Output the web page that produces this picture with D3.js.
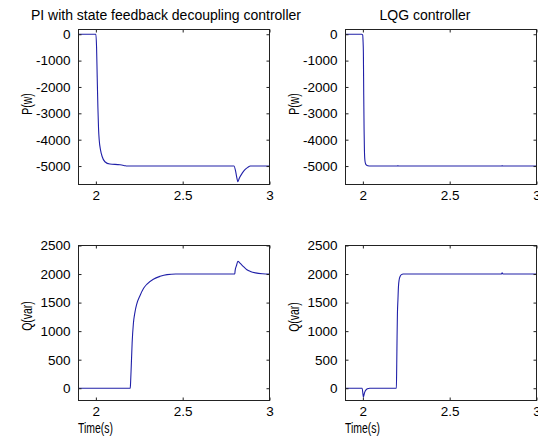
<!DOCTYPE html>
<html>
<head>
<meta charset="utf-8">
<script src="https://cdn.jsdelivr.net/npm/d3@7"></script>
<style>
  html, body { margin: 0; padding: 0; background: #fff; }
  svg { display: block; }
  text { font-family: "Liberation Sans", Arial, sans-serif; fill: #000; }
</style>
</head>
<body>
<svg id="chart" width="538" height="437"></svg>
<script>
// ---------- data ----------
const titles = ["PI with state feedback decoupling controller", "LQG controller"];
const yLabels = ["P(w)", "Q(var)"];
const xLabel = "Time(s)";
const xTicks = [2, 2.5, 3];
const xTickLabels = ["2", "2.5", "3"];
const pTicks = [0, -1000, -2000, -3000, -4000, -5000];
const qTicks = [0, 500, 1000, 1500, 2000, 2500];

// PI controller, active power P
const piP_t = [1.9, 2.0, 2.004, 2.0077, 2.0116, 2.0154, 2.0193, 2.027, 2.0366, 2.052, 2.081, 2.139, 2.168, 2.177, 2.795, 2.805, 2.812, 2.818, 2.826, 2.842, 2.86, 2.875, 2.89, 3.0];
const piP_v = [0, 0, -480, -1616, -2750, -3573, -4015, -4394, -4646, -4836, -4924, -4949, -4987, -5000, -5000, -5200, -5450, -5590, -5460, -5280, -5130, -5050, -5000, -5000];

// LQG controller, active power P
const lqgP_t = [1.9, 1.993, 1.999, 2.001, 2.003, 2.005, 2.007, 2.009, 2.012, 2.016, 2.022, 2.03, 2.04, 2.198, 2.202, 2.206, 2.798, 2.802, 2.806, 3.0];
const lqgP_v = [0, 0, -30, -250, -700, -2300, -3600, -4400, -4800, -4920, -4970, -4990, -5000, -5000, -4985, -5000, -5000, -4985, -5000, -5000];

// PI controller, reactive power Q
const piQ_t = [1.9, 2.198, 2.2, 2.204, 2.209, 2.216, 2.225, 2.235, 2.254, 2.275, 2.293, 2.331, 2.37, 2.41, 2.46, 2.8, 2.802, 2.81, 2.818, 2.83, 2.85, 2.87, 2.89, 2.92, 2.96, 3.0];
const piQ_v = [0, 0, 100, 400, 800, 1130, 1330, 1470, 1620, 1750, 1820, 1910, 1960, 1990, 2000, 2000, 2060, 2150, 2225, 2190, 2130, 2075, 2045, 2020, 2005, 2000];

// LQG controller, reactive power Q
const lqgQ_t = [1.9, 1.996, 2.0, 2.003, 2.007, 2.012, 2.018, 2.026, 2.04, 2.193, 2.195, 2.197, 2.199, 2.202, 2.205, 2.209, 2.215, 2.222, 2.232, 2.797, 2.802, 2.808, 3.0];
const lqgQ_v = [0, 0, -90, -158, -110, -60, -30, -10, 0, 0, 400, 900, 1300, 1550, 1780, 1900, 1960, 1990, 2000, 2000, 2020, 2000, 2000];

// ---------- layout ----------
const svg = d3.select("#chart");
const lineColor = "#2020a8";
const font = 13.5;

const panels = [
  { x0: 78.5, x1: 269.5, y0: 29.5, y1: 184.5, yDom: [-5700, 180], yTicks: pTicks, t: piP_t, v: piP_v, title: titles[0], titleX: 166, yLab: yLabels[0], yLabY: 104, xLab: false },
  { x0: 345.5, x1: 536.5, y0: 29.5, y1: 184.5, yDom: [-5700, 180], yTicks: pTicks, t: lqgP_t, v: lqgP_v, title: titles[1], titleX: 425, yLab: yLabels[0], yLabY: 104, xLab: false },
  { x0: 78.5, x1: 269.5, y0: 245.5, y1: 400.5, yDom: [-215, 2500], yTicks: qTicks, t: piQ_t, v: piQ_v, title: null, yLab: yLabels[1], yLabY: 316, xLab: true, xLabX: 95.5 },
  { x0: 345.5, x1: 536.5, y0: 245.5, y1: 400.5, yDom: [-215, 2500], yTicks: qTicks, t: lqgQ_t, v: lqgQ_v, title: null, yLab: yLabels[1], yLabY: 317, xLab: true, xLabX: 362.5 }
];

panels.forEach(p => {
  const x = d3.scaleLinear().domain([1.9, 3]).range([p.x0, p.x1]);
  const y = d3.scaleLinear().domain(p.yDom).range([p.y1, p.y0]);
  const g = svg.append("g");

  const id = "clip" + Math.round(p.x0) + "_" + Math.round(p.y0);
  svg.append("clipPath").attr("id", id).append("rect")
    .attr("x", p.x0).attr("y", p.y0).attr("width", p.x1 - p.x0).attr("height", p.y1 - p.y0);

  const pts = p.t.map((t, i) => [t, p.v[i]]);
  g.append("path")
    .datum(pts)
    .attr("clip-path", `url(#${id})`)
    .attr("fill", "none")
    .attr("stroke", lineColor)
    .attr("stroke-width", 1.1)
    .attr("d", d3.line().curve(d3.curveMonotoneX).x(d => x(d[0])).y(d => y(d[1])));

  const tl = 3;
  const ax = (axisFn, scale, ticks, labels) => {
    const a = axisFn(scale).tickValues(ticks).tickSizeInner(-tl).tickSizeOuter(0);
    if (labels) a.tickFormat((d, i) => labels[i]); else a.tickFormat(() => "");
    return a;
  };
  const bottom = g.append("g").attr("transform", `translate(0,${p.y1})`)
    .call(ax(d3.axisBottom, x, xTicks, xTickLabels));
  const top = g.append("g").attr("transform", `translate(0,${p.y0})`)
    .call(ax(d3.axisTop, x, xTicks, null));
  const left = g.append("g").attr("transform", `translate(${p.x0},0)`)
    .call(ax(d3.axisLeft, y, p.yTicks, p.yTicks.map(String)).tickPadding(tl + 5));
  const right = g.append("g").attr("transform", `translate(${p.x1},0)`)
    .call(ax(d3.axisRight, y, p.yTicks, null));

  [bottom, top, left, right].forEach(a => {
    a.selectAll(".domain").remove();
    a.selectAll("line").attr("stroke", "#222");
    a.selectAll("text").attr("font-size", font).attr("font-family", "Liberation Sans, Arial, sans-serif").attr("fill", "#000");
  });
  bottom.selectAll("text").attr("dy", null).attr("y", 15.5);

  g.append("rect")
    .attr("x", p.x0).attr("y", p.y0)
    .attr("width", p.x1 - p.x0).attr("height", p.y1 - p.y0)
    .attr("fill", "none").attr("stroke", "#222").attr("stroke-width", 1);

  if (p.title) {
    g.append("text").attr("x", p.titleX).attr("y", 20)
      .attr("text-anchor", "middle").attr("font-size", 14).text(p.title);
  }
  g.append("text")
    .attr("transform", `translate(${p.x0 - 47},${p.yLabY}) rotate(-90) scale(0.7,1)`)
    .attr("text-anchor", "middle").attr("font-size", 15).text(p.yLab);
  if (p.xLab) {
    g.append("text")
      .attr("transform", `translate(${p.xLabX},432.5) scale(0.72,1)`)
      .attr("text-anchor", "middle").attr("font-size", 14.5).text(xLabel);
  }
});
</script>
</body>
</html>
